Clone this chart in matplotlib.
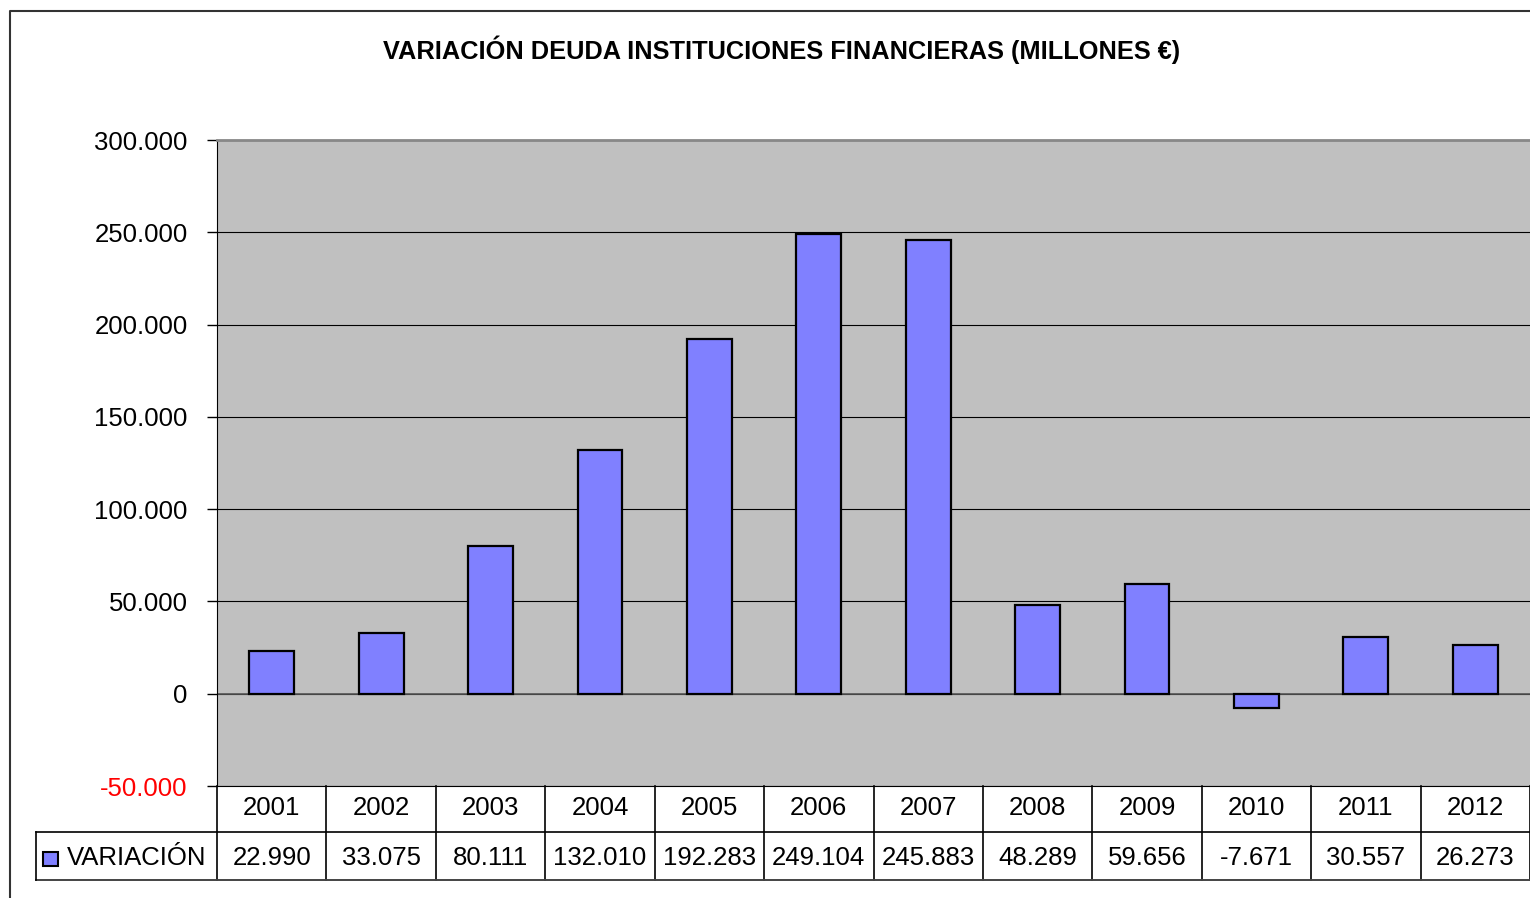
import matplotlib
matplotlib.use('Agg')
import matplotlib.pyplot as plt
from matplotlib import transforms
from matplotlib.lines import Line2D
from matplotlib.patches import Rectangle

# datos
years = ['2001', '2002', '2003', '2004', '2005', '2006',
         '2007', '2008', '2009', '2010', '2011', '2012']
variacion = [22990, 33075, 80111, 132010, 192283, 249104,
             245883, 48289, 59656, -7671, 30557, 26273]
yticks = [-50000, 0, 50000, 100000, 150000, 200000, 250000, 300000]
serie = 'VARIACIÓN'
titulo = 'VARIACIÓN DEUDA INSTITUCIONES FINANCIERAS (MILLONES €)'

W, H = 1530, 898
plt.rcParams['font.family'] = ['Liberation Sans', 'DejaVu Sans']
FS = 18.5


def fx(px):
    return px / W


def fy(py):
    return 1 - py / H


def fmt(v):
    return f'{v:,}'.replace(',', '.')


fig = plt.figure(figsize=(W / 100, H / 100), dpi=100)
fig.patch.set_facecolor('white')

# marco exterior
fig.add_artist(Line2D([fx(10), fx(10), fx(1530)], [fy(898), fy(11), fy(11)],
                      color='#333333', lw=1.5, transform=fig.transFigure))

fig.text(fx(782), fy(50), titulo, ha='center', va='center',
         fontsize=18.3, fontweight='bold')

ax = fig.add_axes([fx(217), fy(786), fx(1530) - fx(217), fy(140) - fy(786)])
ax.set_facecolor('#c0c0c0')
x = list(range(len(years)))
ax.bar(x, variacion, width=0.41, color='#8080ff', edgecolor='black', lw=1.6, zorder=3)
ax.set_xlim(-0.5, len(years) - 0.5)
ax.set_ylim(-50000, 300000)
ax.set_yticks(yticks)
ax.set_yticklabels([fmt(v) for v in yticks], fontsize=FS)
ax.get_yticklabels()[0].set_color('red')
ax.tick_params(axis='y', length=7, width=1, pad=14, direction='out')
ax.set_xticks([])
ax.yaxis.grid(True, color='black', lw=0.8, zorder=1)
ax.axhline(0, color='#555555', lw=1.2, zorder=2)
ax.spines['top'].set_color('#888888')
ax.spines['top'].set_linewidth(2)
ax.spines['right'].set_visible(False)
ax.spines['bottom'].set_color('black')
ax.spines['left'].set_color('black')

# tabla de datos
tr = transforms.blended_transform_factory(ax.transData, fig.transFigure)
y_top, y_mid, y_bot = fy(786), fy(832), fy(880)
for i in range(len(years) + 1):
    xb = i - 0.5
    fig.add_artist(Line2D([xb, xb], [y_top, y_bot], color='black', lw=1.2,
                          transform=tr, clip_on=False))
for i, (yr, v) in enumerate(zip(years, variacion)):
    ax.text(i, fy(808), yr, transform=tr, ha='center', va='center', fontsize=FS)
    ax.text(i, fy(858), fmt(v), transform=tr, ha='center', va='center', fontsize=FS)

fig.add_artist(Line2D([fx(36), fx(1530)], [y_mid, y_mid], color='black', lw=1.2,
                      transform=fig.transFigure))
fig.add_artist(Line2D([fx(36), fx(1530)], [y_bot, y_bot], color='#444444', lw=1.4,
                      transform=fig.transFigure))
fig.add_artist(Line2D([fx(36), fx(36)], [y_mid, y_bot], color='black', lw=1.2,
                      transform=fig.transFigure))

# leyenda
fig.add_artist(Rectangle((fx(43), fy(866)), fx(15), fy(852) - fy(866),
                         facecolor='#8080ff', edgecolor='black', lw=1.5,
                         transform=fig.transFigure))
fig.text(fx(67), fy(858), serie, ha='left', va='center', fontsize=FS)

fig.savefig('out.png', dpi=100)
